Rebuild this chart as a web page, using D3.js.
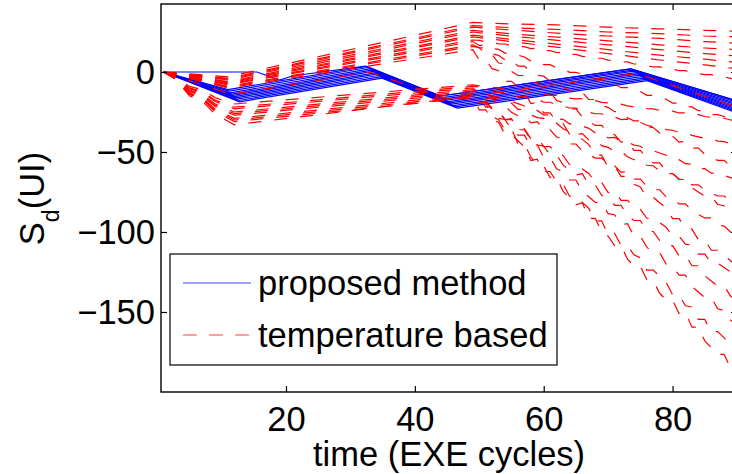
<!DOCTYPE html>
<html>
<head>
<meta charset="utf-8">
<script src="https://cdn.jsdelivr.net/npm/d3@7"></script>
<style>
  html, body { margin: 0; padding: 0; background: #fff; overflow: hidden; }
  svg { display: block; font-family: "Liberation Sans", Arial, Helvetica, sans-serif; }
</style>
</head>
<body>
<svg id="chart" width="732" height="474"></svg>
<script>
// ---- data -------------------------------------------------------------
const xTicks = [20, 40, 60, 80];
const yTicks = [0, -50, -100, -150];
const legendLabels = ["proposed method", "temperature based"];

// proposed method: one run per chip, [cycle, S_d] break points
const proposedRuns = [
  [[1,0],[11.0,-11.0],[32.5,3.5],[44.0,-15.0],[73.5,2.0],[90,-18.0]],
  [[1,0],[11.2,-12.0],[32.7,2.8],[44.3,-16.0],[73.8,1.2],[90,-18.8]],
  [[1,0],[11.4,-13.0],[33.0,2.0],[44.6,-16.8],[74.0,0.5],[90,-19.8]],
  [[1,0],[11.6,-13.8],[33.3,1.2],[44.9,-17.6],[74.3,-0.4],[90,-20.6]],
  [[1,0],[11.8,-14.6],[33.5,0.4],[45.2,-18.5],[74.6,-1.2],[90,-21.5]],
  [[1,0],[12.0,-15.4],[33.8,-0.5],[45.4,-19.3],[74.9,-2.0],[90,-22.3]],
  [[1,0],[12.2,-16.2],[34.0,-1.3],[45.7,-20.1],[75.2,-2.9],[90,-23.2]],
  [[1,0],[12.4,-17.0],[34.3,-2.2],[46.0,-21.0],[75.5,-3.8],[90,-24.0]],
  [[1,0],[12.6,-17.8],[34.6,-3.0],[46.3,-21.8],[75.8,-4.6],[90,-24.8]],
  [[1,0],[12.8,-18.6],[34.9,-3.8],[46.6,-22.6],[76.1,-5.4],[90,-25.6]],
  [[1,0],[15.5,0],[19,-5],[21,-2.5],[32.3,3.6],[44.0,-15.0],[73.5,2.0],[90,-18.0]]
];

// temperature based: runs that stay near the top after cycle 49
const tempUpper = [
  [[1,0],[11,-3.0],[49,31],[55,30.0],[62,29.5],[70,28.0],[78,27.0],[85,26.0],[90,25.5]],
  [[1,0],[11,-4.0],[49,29],[56,27.5],[63,26.5],[70,25.0],[78,24.0],[85,22.5],[90,22.0]],
  [[1,0],[11,-4.5],[49,28],[56,26.0],[63,24.0],[70,22.5],[78,21.0],[85,19.0],[90,18.0]],
  [[1,0],[11,-5.0],[49,26],[56,23.5],[63,21.5],[70,19.5],[78,17.0],[85,15.0],[90,14.0]],
  [[1,0],[11,-6.0],[49,25],[56,22.0],[63,19.5],[70,17.0],[78,14.0],[85,11.5],[90,10.0]],
  [[1,0],[11,-6.5],[49,23],[56,20.0],[63,17.0],[70,14.0],[78,10.5],[85,8.0],[90,6.0]],
  [[1,0],[11,-7.0],[49,22],[56,18.5],[63,15.0],[70,11.5],[78,7.5],[85,4.5],[90,2.0]]
];

// temperature based: run that follows the proposed band
const tempTrack = [[1,0],[11.5,-14],[33,0],[45,-17],[74.5,-1],[90,-22]];

// temperature based: diverging runs, break points up to cycle 49 ...
const tempFanHeads = [
  [[1,0],[11,-7.5],[49,20]],
  [[1,0],[11,-8.0],[49,19]],
  [[1,0],[11,-9.0],[49,17]],
  [[1,0],[11,-9.5],[49,16]],
  [[1,0],[11,-10.0],[49,14]],
  [[1,0],[3,-3.0],[5,-9.0],[7,-11.0],[9,-16.0],[12,-20],[49,-8]],
  [[1,0],[3,-3.3],[5,-9.9],[7,-12.1],[9,-17.6],[12,-22],[49,-9]],
  [[1,0],[3,-3.5],[5,-10.4],[7,-12.7],[9,-18.4],[12,-23],[49,-10]],
  [[1,0],[3,-3.8],[5,-11.3],[7,-13.8],[9,-20.0],[12,-25],[49,-11]],
  [[1,0],[3,-3.9],[5,-11.7],[7,-14.3],[9,-20.8],[12,-26],[49,-12]],
  [[1,0],[3,-4.0],[5,-12.2],[7,-14.9],[9,-21.6],[12,-27],[49,-13]],
  [[1,0],[3,-4.4],[5,-13.0],[7,-16.0],[9,-23.2],[12,-29],[49,-14]],
  [[1,0],[3,-4.5],[5,-13.5],[7,-16.5],[9,-24.0],[12,-30],[49,-15]],
  [[1,0],[3,-4.7],[5,-14.0],[7,-17.0],[9,-24.8],[12,-31],[49,-16]],
  [[1,0],[3,-5.0],[5,-14.9],[7,-18.2],[9,-26.4],[12,-33],[49,-15]]
];
// ... and their value at every cycle from 50 to 90
const fanStartCycle = 50;
const tempFanTails = [
  [19.8,18.8,18.8,17.6,17.5,16.4,15.8,15.8,14.6,14.8,13.4,13.4,12.2,11.9,11,11,9.8,9.2,8.6,8.6,7.4,7.3,6.2,6.3,5,5,3.8,3.2,3.2,2,1.8,0.8,0.8,-0.4,-1,-1.6,-1.6,-2.8,-3,-4,-4.6],
  [16.6,16.6,14.7,14.2,11.8,11.8,10.6,9.4,6.8,7,4.6,4.6,2.6,2.2,-0.2,-0.2,-1.4,-2.6,-5,-5,-7.8,-7.4,-9.8,-9.8,-11.6,-12.2,-14.6,-14.6,-15.8,-17,-19.4,-19.4,-21.6,-21.8,-24.2,-24.2,-26.6,-26.6,-27.8,-29,-30.2],
  [15.1,15.1,11.3,10.4,7.5,7.9,3.7,3.7,-0.1,-2,-2.6,-5.8,-5.8,-9.6,-11.5,-13.4,-12.8,-17.2,-17.2,-21,-22.1,-24.8,-24.8,-28.6,-30.5,-30.5,-34.3,-34.7,-38.1,-40,-40,-43.8,-43.4,-47.6,-47.6,-51.4,-53.3,-55.2,-55.2,-59,-60.9],
  [15.2,10.8,10.8,5.6,5.1,0.4,-2.2,-2.2,-7.4,-6.6,-12.6,-12.6,-17.8,-19.1,-23,-23,-28.2,-30.8,-33.4,-33.4,-38.6,-39.1,-43.8,-43.3,-49,-49,-54.2,-56.8,-56.8,-62,-63,-67.2,-67.2,-72.4,-75,-77.6,-77.6,-82.8,-83.6,-88,-90.6],
  [7.4,7.4,2.1,0.8,-5.8,-5.8,-9.1,-12.4,-19.7,-19,-25.6,-25.6,-31.2,-32.2,-38.8,-38.8,-42.1,-45.4,-52,-52,-59.6,-58.6,-65.2,-65.2,-70.2,-71.8,-78.4,-78.4,-81.7,-85,-91.6,-91.6,-97.5,-98.2,-104.8,-104.8,-111.4,-111.4,-114.7,-118,-121.3],
  [-8.6,-8.6,-9.7,-9.9,-10.8,-10.6,-11.9,-11.9,-13,-13.5,-13.7,-14.6,-14.6,-15.7,-16.3,-16.8,-16.6,-17.9,-17.9,-19,-19.3,-20.1,-20.1,-21.2,-21.8,-21.8,-22.9,-23,-24,-24.5,-24.5,-25.6,-25.5,-26.7,-26.7,-27.8,-28.4,-28.9,-28.9,-30,-30.5],
  [-9.3,-10.8,-10.8,-12.6,-12.8,-14.4,-15.3,-15.3,-17.1,-16.8,-18.9,-18.9,-20.7,-21.2,-22.5,-22.5,-24.3,-25.2,-26.1,-26.1,-27.9,-28.1,-29.7,-29.5,-31.5,-31.5,-33.3,-34.2,-34.2,-36,-36.4,-37.8,-37.8,-39.6,-40.5,-41.4,-41.4,-43.2,-43.5,-45,-45.9],
  [-12.8,-12.8,-15,-15.6,-18.4,-18.4,-19.8,-21.2,-24.3,-24,-26.8,-26.8,-29.2,-29.6,-32.4,-32.4,-33.8,-35.2,-38,-38,-41.2,-40.8,-43.6,-43.6,-45.7,-46.4,-49.2,-49.2,-50.6,-52,-54.8,-54.8,-57.3,-57.6,-60.4,-60.4,-63.2,-63.2,-64.6,-66,-67.4],
  [-12.8,-12.8,-16.3,-17.1,-19.8,-19.4,-23.3,-23.3,-26.8,-28.5,-29,-32,-32,-35.5,-37.3,-39,-38.5,-42.5,-42.5,-46,-47.1,-49.5,-49.5,-53,-54.8,-54.8,-58.3,-58.6,-61.8,-63.5,-63.5,-67,-66.7,-70.5,-70.5,-74,-75.8,-77.5,-77.5,-81,-82.8],
  [-12.7,-16.4,-16.4,-20.8,-21.2,-25.2,-27.4,-27.4,-31.8,-31.1,-36.2,-36.2,-40.6,-41.7,-45,-45,-49.4,-51.6,-53.8,-53.8,-58.2,-58.6,-62.6,-62.2,-67,-67,-71.4,-73.6,-73.6,-78,-78.9,-82.4,-82.4,-86.8,-89,-91.2,-91.2,-95.6,-96.3,-100,-102.2],
  [-18.6,-18.6,-23.1,-24.2,-29.8,-29.8,-32.6,-35.4,-41.6,-41,-46.6,-46.6,-51.4,-52.2,-57.8,-57.8,-60.6,-63.4,-69,-69,-75.4,-74.6,-80.2,-80.2,-84.4,-85.8,-91.4,-91.4,-94.2,-97,-102.6,-102.6,-107.6,-108.2,-113.8,-113.8,-119.4,-119.4,-122.2,-125,-127.8],
  [-17.2,-17.2,-23.5,-25,-29.8,-29.1,-36.1,-36.1,-42.4,-45.5,-46.4,-51.8,-51.8,-58.1,-61.3,-64.4,-63.5,-70.7,-70.7,-77,-78.9,-83.3,-83.3,-89.6,-92.8,-92.8,-99.1,-99.7,-105.4,-108.5,-108.5,-114.8,-114.2,-121.1,-121.1,-127.4,-130.6,-133.7,-133.7,-140,-143.2],
  [-16.1,-22,-22,-29,-29.7,-36,-39.5,-39.5,-46.5,-45.5,-53.5,-53.5,-60.5,-62.3,-67.5,-67.5,-74.5,-78,-81.5,-81.5,-88.5,-89.2,-95.5,-94.8,-102.5,-102.5,-109.5,-113,-113,-120,-121.4,-127,-127,-134,-137.5,-141,-141,-148,-149.1,-155,-158.5],
  [-23.7,-23.7,-29.9,-31.4,-39.1,-39.1,-43,-46.8,-55.3,-54.5,-62.2,-62.2,-68.7,-69.9,-77.6,-77.6,-81.5,-85.3,-93,-93,-101.9,-100.7,-108.4,-108.4,-114.2,-116.1,-123.8,-123.8,-127.7,-131.5,-139.2,-139.2,-146.1,-146.9,-154.6,-154.6,-162.3,-162.3,-166.2,-170,-173.9],
  [-19.3,-19.3,-27.8,-29.9,-36.3,-35.4,-44.8,-44.8,-53.3,-57.5,-58.8,-66,-66,-74.5,-78.8,-83,-81.7,-91.5,-91.5,-100,-102.6,-108.5,-108.5,-117,-121.3,-121.3,-129.8,-130.6,-138.3,-142.5,-142.5,-151,-150.2,-159.5,-159.5,-168,-172.3,-176.5,-176.5,-185,-189.3]
];

// ---- layout -----------------------------------------------------------
const box = { left: 161, top: 4, right: 737, bottom: 392 };
const FONT = 34.5;
const BLUE = "#0000ff", RED = "#ff0000";

const svg = d3.select("#chart");
const x = d3.scaleLinear().domain([0.6, 90]).range([box.left, box.right]);
const y = d3.scaleLinear().domain([-200, 42.5]).range([box.bottom, box.top]);

svg.append("defs").append("clipPath").attr("id", "plotClip")
  .append("rect")
  .attr("x", box.left).attr("y", box.top)
  .attr("width", box.right - box.left).attr("height", box.bottom - box.top);

const line = d3.line().x(d => x(d[0])).y(d => y(d[1]));
const plotG = svg.append("g").attr("clip-path", "url(#plotClip)");

// proposed method runs (solid blue)
plotG.append("g").selectAll("path").data(proposedRuns).join("path")
  .attr("d", line)
  .attr("fill", "none").attr("stroke", BLUE).attr("stroke-width", 1.2);

// temperature based runs (dashed red)
const fanRuns = tempFanHeads.map((head, i) =>
  head.concat(tempFanTails[i].map((v, k) => [fanStartCycle + k, v])));
const tempRuns = tempUpper.concat([tempTrack], fanRuns);

plotG.append("g").selectAll("path").data(tempRuns).join("path")
  .attr("d", line)
  .attr("fill", "none").attr("stroke", RED).attr("stroke-width", 1.2)
  .attr("stroke-dasharray", "13,13");

// ---- axes -------------------------------------------------------------
const fmt = d => d < 0 ? "\u2212" + Math.abs(d) : String(d);

const gx = svg.append("g").attr("transform", `translate(0,${box.bottom})`)
  .call(d3.axisBottom(x).tickValues(xTicks).tickSizeInner(-6).tickSizeOuter(0)
    .tickPadding(15).tickFormat(fmt));
const gxTop = svg.append("g").attr("transform", `translate(0,${box.top})`)
  .call(d3.axisTop(x).tickValues(xTicks).tickSizeInner(-6).tickSizeOuter(0).tickFormat(""));
const gy = svg.append("g").attr("transform", `translate(${box.left},0)`)
  .call(d3.axisLeft(y).tickValues(yTicks).tickSizeInner(-6).tickSizeOuter(0)
    .tickPadding(6).tickFormat(fmt));
const gyRight = svg.append("g").attr("transform", `translate(${box.right},0)`)
  .call(d3.axisRight(y).tickValues(yTicks).tickSizeInner(-6).tickSizeOuter(0).tickFormat(""));

[gx, gxTop, gy, gyRight].forEach(g => {
  g.select(".domain").remove();
  g.selectAll(".tick line").attr("stroke", "#000").attr("stroke-width", 1.2);
  g.selectAll(".tick text").attr("fill", "#000")
    .attr("font-size", FONT).attr("font-family", "Liberation Sans, Arial, sans-serif");
});

svg.append("rect")
  .attr("x", box.left).attr("y", box.top)
  .attr("width", box.right - box.left).attr("height", box.bottom - box.top)
  .attr("fill", "none").attr("stroke", "#000").attr("stroke-width", 1.4);

// axis titles
svg.append("text")
  .attr("x", (box.left + box.right) / 2).attr("y", 466)
  .attr("text-anchor", "middle").attr("font-size", FONT).attr("fill", "#000")
  .text("time (EXE cycles)");

const yt = svg.append("text")
  .attr("transform", "translate(43.5,198.5) rotate(-90)")
  .attr("text-anchor", "middle").attr("font-size", FONT).attr("fill", "#000");
yt.append("tspan").text("S");
yt.append("tspan").attr("font-size", 23).attr("dy", 15.5).text("d");
yt.append("tspan").attr("dy", -15.5).text("(UI)");

// ---- legend -----------------------------------------------------------
const lg = svg.append("g");
lg.append("rect").attr("x", 170).attr("y", 254).attr("width", 387).attr("height", 111)
  .attr("fill", "#fff").attr("stroke", "#000").attr("stroke-width", 1.2);
const legendStyles = [
  { color: BLUE, dash: null, y: 283 },
  { color: RED, dash: "14,12", y: 335 }
];
legendLabels.forEach((label, i) => {
  const s = legendStyles[i];
  lg.append("line").attr("x1", 183).attr("x2", 251).attr("y1", s.y).attr("y2", s.y)
    .attr("stroke", s.color).attr("stroke-width", 1.1).attr("stroke-opacity", 0.75)
    .attr("stroke-dasharray", s.dash);
  lg.append("text").attr("x", 258).attr("y", s.y + 12)
    .attr("font-size", FONT).attr("fill", "#000").text(label);
});
</script>
</body>
</html>
